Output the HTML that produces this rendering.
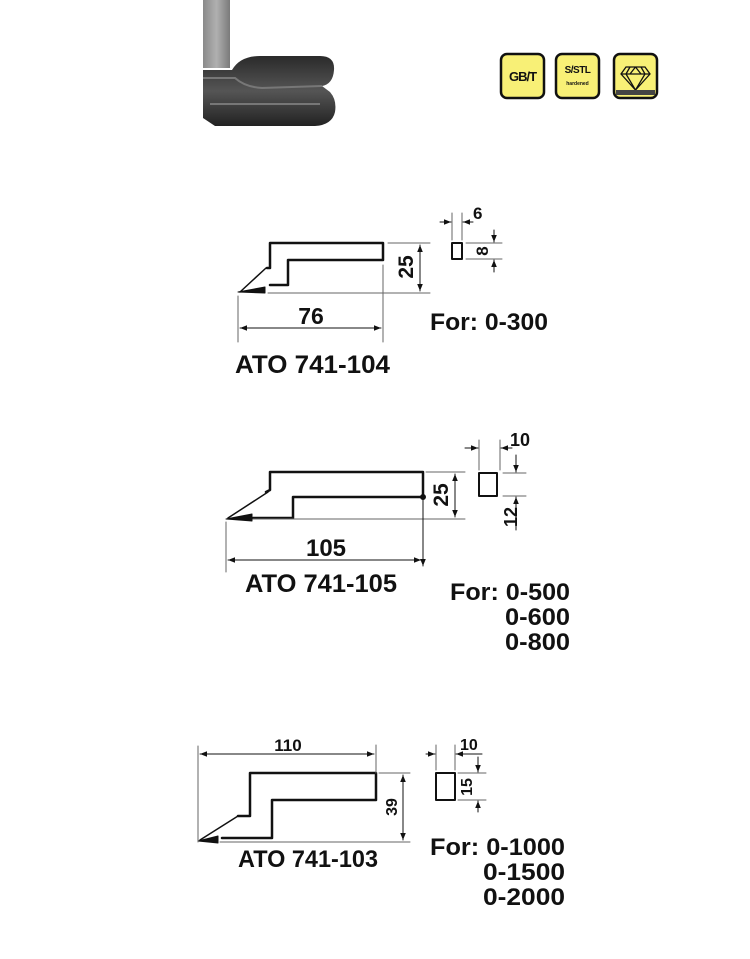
<!DOCTYPE html>
<html><head><meta charset="utf-8"><style>
html,body{margin:0;padding:0;background:#fff;}
svg{display:block;}
text{font-family:"Liberation Sans",Arial,sans-serif;font-weight:bold;fill:#111;}
</style></head><body>
<svg width="750" height="959" viewBox="0 0 750 959" xmlns="http://www.w3.org/2000/svg">
<defs>
<marker id="a" viewBox="0 0 10 10" refX="10" refY="5" markerWidth="7" markerHeight="7" orient="auto-start-reverse"><path d="M0,1 L10,5 L0,9 z" fill="#111"/></marker>
<linearGradient id="bar" x1="0" x2="1"><stop offset="0" stop-color="#8a8a8a"/><stop offset="0.5" stop-color="#b0b0b0"/><stop offset="1" stop-color="#7a7a7a"/></linearGradient>
<linearGradient id="foot" x1="0" y1="0" x2="0" y2="1"><stop offset="0" stop-color="#2a2a2a"/><stop offset="0.5" stop-color="#555"/><stop offset="1" stop-color="#222"/></linearGradient>
</defs>

<!-- photo -->
<rect x="203" y="0" width="27" height="68" fill="url(#bar)"/>
<path d="M203,70 L232,70 Q240,56 260,56 L320,56 Q335,56 334,70 Q333,84 322,86 L330,92 Q337,100 335,112 Q332,125 315,126 L215,126 L203,118 Z" fill="url(#foot)"/>
<path d="M203,78 L235,78 Q245,87 262,88 L322,86" stroke="#777" stroke-width="2" fill="none"/>
<path d="M210,104 L320,104" stroke="#777" stroke-width="2" fill="none"/>

<!-- icons -->
<g stroke="#111" stroke-width="2.5" fill="#f8f076">
<rect x="501" y="54" width="43" height="44" rx="6"/>
<rect x="556" y="54" width="43" height="44" rx="6"/>
<rect x="614" y="54" width="43" height="44" rx="6"/>
</g>
<text x="522.5" y="81" font-size="13" text-anchor="middle" letter-spacing="-1">GB/T</text>
<text x="577.5" y="73" font-size="10" text-anchor="middle" letter-spacing="-0.5">S/STL</text>
<text x="577.5" y="85" font-size="5" text-anchor="middle">hardened</text>
<path d="M626,67 L645,67 L650,74 L635.5,90 L621,74 Z M621,74 L650,74 M630,67 L626,74 L635.5,90 L645,74 L641,67 M635.5,67 L630,74 M635.5,67 L641,74" stroke="#111" stroke-width="1.3" fill="none"/>
<rect x="616" y="90" width="39" height="5" fill="#444"/>

<g fill="none" stroke="#111" stroke-linecap="round" stroke-linejoin="round">
<!-- Diagram 1 -->
<path d="M267,268 L270,268 L270,243 L383,243 L383,260 L288,260 L288,285 L270,285" stroke-width="2.5"/>
<path d="M266,268 L240,292" stroke-width="1.5"/>
<path d="M238,292 L265,287 L265,293 Z" fill="#111" stroke-width="1"/>
<g stroke="#666" stroke-width="1">
<path d="M268,293 L430,293 M388,243 L430,243 M238,296 L238,342 M383,265 L383,342 M452,213 L452,240 M462,213 L462,240 M466,243 L502,243 M466,259 L502,259"/>
</g>
<path d="M420,245 L420,291" stroke-width="1" marker-start="url(#a)" marker-end="url(#a)"/>
<path d="M240,328 L381,328" stroke-width="1" marker-start="url(#a)" marker-end="url(#a)"/>
<path d="M440,222 L451,222" stroke-width="1" marker-end="url(#a)"/>
<path d="M473,222 L463,222" stroke-width="1" marker-end="url(#a)"/>
<path d="M494,230 L494,242" stroke-width="1" marker-end="url(#a)"/>
<path d="M494,272 L494,260" stroke-width="1" marker-end="url(#a)"/>
<rect x="452" y="243" width="10" height="16" stroke-width="2"/>

<!-- Diagram 2 -->
<path d="M266,492 L270,490 L270,472 L423,472 L423,497 L293,497 L293,518 L253,518" stroke-width="2.5"/>
<path d="M268,492 L228,518" stroke-width="1.5"/>
<path d="M226,519 L252,514 L252,521 Z" fill="#111" stroke-width="1"/>
<g stroke="#666" stroke-width="1">
<path d="M253,519 L465,519 M426,472 L465,472 M226,522 L226,572 M479,440 L479,470 M500,440 L500,470 M503,473 L526,473 M503,496 L526,496"/>
</g>
<path d="M423,497 L423,566" stroke-width="1" marker-end="url(#a)"/>
<circle cx="423" cy="497" r="2.5" fill="#111"/>
<path d="M455,474 L455,517" stroke-width="1" marker-start="url(#a)" marker-end="url(#a)"/>
<path d="M228,560 L421,560" stroke-width="1" marker-start="url(#a)" marker-end="url(#a)"/>
<path d="M465,448 L478,448" stroke-width="1" marker-end="url(#a)"/>
<path d="M512,448 L501,448" stroke-width="1" marker-end="url(#a)"/>
<path d="M516,455 L516,472" stroke-width="1" marker-end="url(#a)"/>
<path d="M516,530 L516,497" stroke-width="1" marker-end="url(#a)"/>
<rect x="479" y="473" width="18" height="23" stroke-width="2"/>

<!-- Diagram 3 -->
<path d="M238,816 L250,816 L250,773 L376,773 L376,800 L272,800 L272,838 L222,838" stroke-width="2.5"/>
<path d="M238,816 L200,840" stroke-width="1.5"/>
<path d="M198,841 L218,836 L218,843 Z" fill="#111" stroke-width="1"/>
<g stroke="#666" stroke-width="1">
<path d="M220,842 L410,842 M379,773 L410,773 M198,746 L198,842 M376,745 L376,773 M436,745 L436,770 M455,745 L455,770 M458,773 L486,773 M458,800 L486,800"/>
</g>
<path d="M200,754 L374,754" stroke-width="1" marker-start="url(#a)" marker-end="url(#a)"/>
<path d="M403,775 L403,840" stroke-width="1" marker-start="url(#a)" marker-end="url(#a)"/>
<path d="M426,754 L435,754" stroke-width="1" marker-end="url(#a)"/>
<path d="M482,754 L456,754" stroke-width="1" marker-end="url(#a)"/>
<path d="M478,757 L478,772" stroke-width="1" marker-end="url(#a)"/>
<path d="M478,812 L478,801" stroke-width="1" marker-end="url(#a)"/>
<rect x="436" y="773" width="19" height="27" stroke-width="2"/>
</g>

<!-- texts diagram 1 -->
<text x="311" y="324" font-size="23" text-anchor="middle">76</text>
<text transform="translate(413,267) rotate(-90)" font-size="21" text-anchor="middle">25</text>
<text x="473" y="219" font-size="17">6</text>
<text transform="translate(488,251) rotate(-90)" font-size="17" text-anchor="middle">8</text>
<text x="235" y="373" font-size="25" textLength="155" lengthAdjust="spacingAndGlyphs">ATO 741-104</text>
<text x="430" y="330" font-size="24" textLength="118" lengthAdjust="spacingAndGlyphs">For: 0-300</text>

<!-- texts diagram 2 -->
<text x="326" y="556" font-size="24" text-anchor="middle">105</text>
<text transform="translate(448,495) rotate(-90)" font-size="21" text-anchor="middle">25</text>
<text x="510" y="446" font-size="18">10</text>
<text transform="translate(517,517) rotate(-90)" font-size="18" text-anchor="middle">12</text>
<text x="245" y="592" font-size="25" textLength="152" lengthAdjust="spacingAndGlyphs">ATO 741-105</text>
<text x="450" y="600" font-size="24" textLength="120" lengthAdjust="spacingAndGlyphs">For: 0-500</text>
<text x="505" y="625" font-size="24" textLength="65" lengthAdjust="spacingAndGlyphs">0-600</text>
<text x="505" y="650" font-size="24" textLength="65" lengthAdjust="spacingAndGlyphs">0-800</text>

<!-- texts diagram 3 -->
<text x="288" y="751" font-size="17" text-anchor="middle">110</text>
<text transform="translate(397,807) rotate(-90)" font-size="16" text-anchor="middle">39</text>
<text x="460" y="750" font-size="16">10</text>
<text transform="translate(472,787) rotate(-90)" font-size="16" text-anchor="middle">15</text>
<text x="238" y="867" font-size="24" textLength="140" lengthAdjust="spacingAndGlyphs">ATO 741-103</text>
<text x="430" y="855" font-size="24" textLength="135" lengthAdjust="spacingAndGlyphs">For: 0-1000</text>
<text x="483" y="880" font-size="24" textLength="82" lengthAdjust="spacingAndGlyphs">0-1500</text>
<text x="483" y="905" font-size="24" textLength="82" lengthAdjust="spacingAndGlyphs">0-2000</text>
</svg>
</body></html>
